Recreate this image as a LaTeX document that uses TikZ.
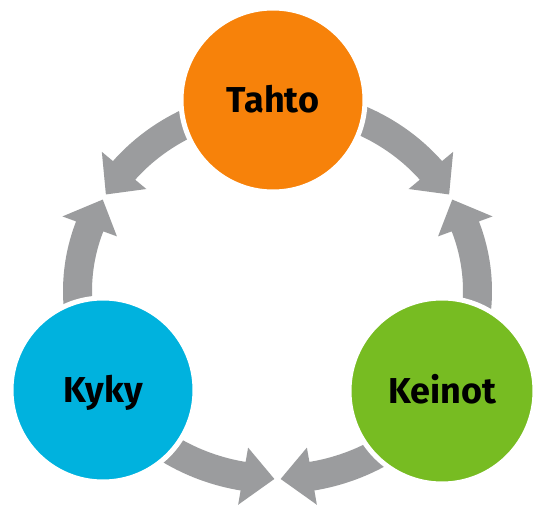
\documentclass[tikz,border=0pt]{standalone}
\usepackage{fontspec}
\setsansfont{Fira Sans}
\definecolor{torange}{HTML}{F7820A}
\definecolor{tcyan}{HTML}{00B2DE}
\definecolor{tgreen}{HTML}{77BC22}
\definecolor{arrowgray}{HTML}{9B9C9E}
% #1 start angle (hidden under a circle), #2 head base angle, #3 tip angle
\newcommand\ringarrow[3]{%
  \fill[arrowgray] ([shift={(C)}]#1:214.5 and 202.5)
    arc[start angle=#1, end angle=#2, x radius=214.5, y radius=202.5]
    -- ([shift={(C)}]#2:229 and 217)
    -- ([shift={(C)}]#3:200 and 188)
    -- ([shift={(C)}]#2:171 and 159)
    -- ([shift={(C)}]#2:185.5 and 173.5)
    arc[start angle=#2, end angle=#1, x radius=185.5, y radius=173.5]
    -- cycle;}
\tikzset{
  bub/.style={circle, minimum size=184pt, inner sep=0pt, draw=white, line width=5pt,
    font=\sffamily\bfseries\fontsize{36}{36}\selectfont, text=black,
    text height=25pt, text depth=0pt}
}
\begin{document}
\begin{tikzpicture}[x=1pt,y=1pt]
\useasboundingbox (0,0) rectangle (533,507);
\fill[white] (0,0) rectangle (533,507);
\coordinate (C) at (277.5,216);
% arrows
\ringarrow{100}{140.1}{149.1}
\ringarrow{205}{159.9}{150.9}
\ringarrow{80}{39.9}{30.9}
\ringarrow{-25}{20.1}{29.1}
\ringarrow{215}{260.1}{269.1}
\ringarrow{325}{279.9}{270.9}
% circles
\node[bub, fill=torange] (tahto) at (273,407) {Tahto};
\node[bub, fill=tcyan] (kyky) at (103,117) {Kyky};
\node[bub, fill=tgreen, minimum size=186pt] (keinot) at (442,116) {Keinot};
\end{tikzpicture}
\end{document}
